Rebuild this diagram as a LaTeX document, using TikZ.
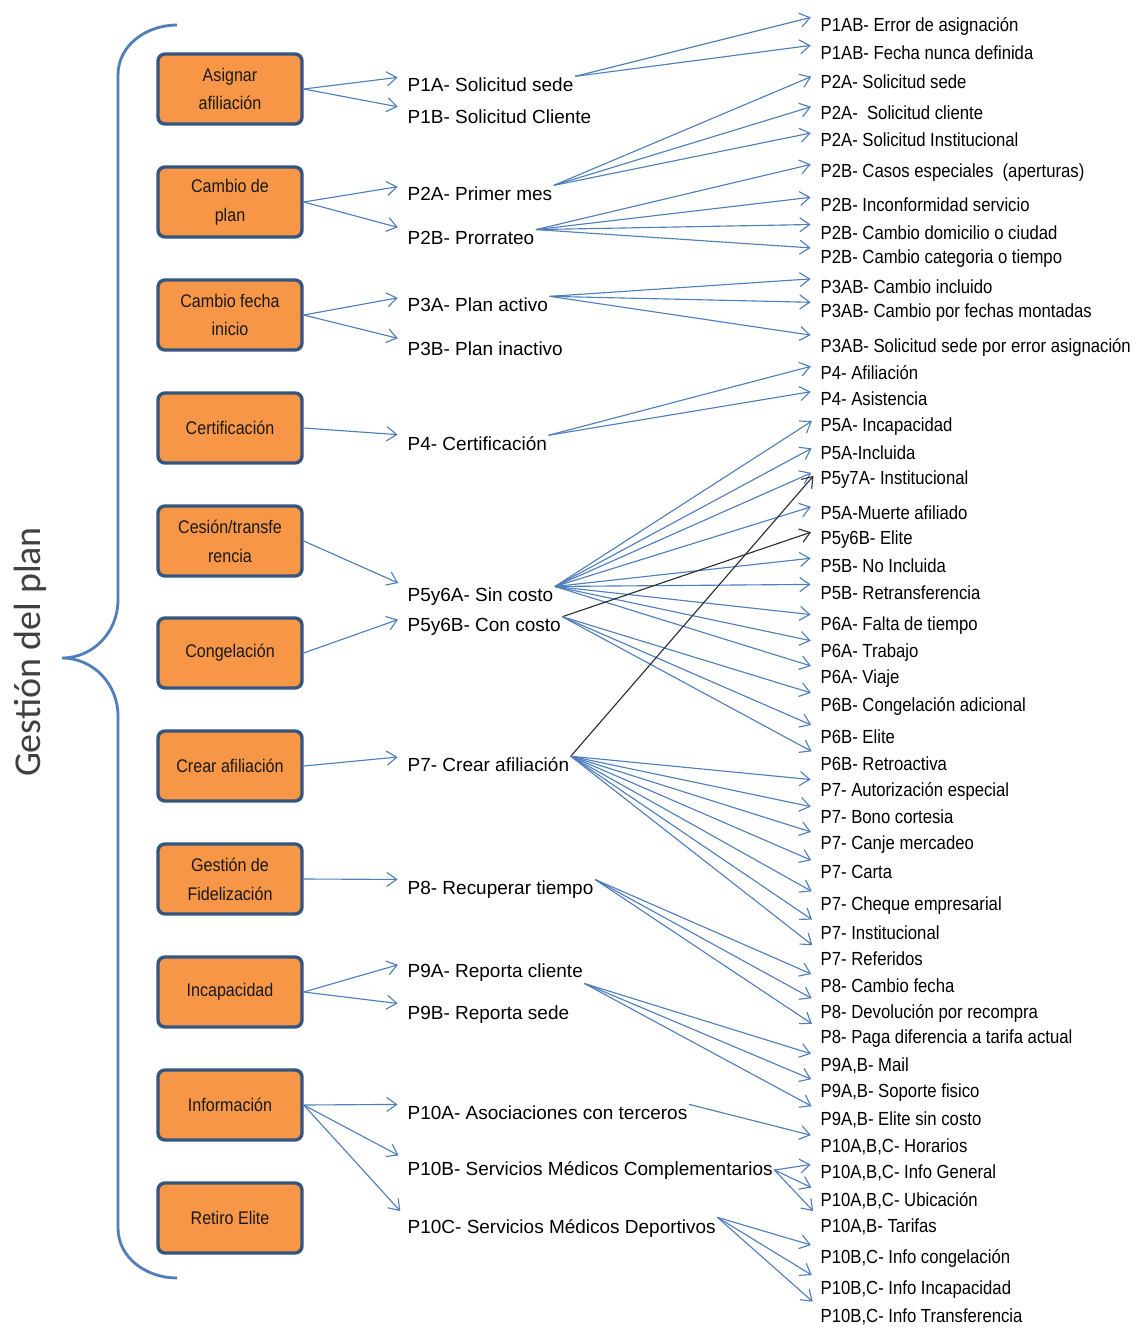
\documentclass[tikz,border=0pt]{standalone}
\usepackage{fontspec}
\setmainfont{Liberation Sans}
\newfontfamily\angosta[FakeStretch=0.88]{Liberation Sans}
\newfontfamily\titulo{Carlito}
\usetikzlibrary{arrows.meta}
\definecolor{naranja}{HTML}{F79646}
\definecolor{bordeazul}{HTML}{34557F}
\definecolor{azulflecha}{HTML}{4F7EBB}
\definecolor{oscuro}{HTML}{2A2F36}
\definecolor{grisletra}{HTML}{404040}

\begin{document}
\begin{tikzpicture}[x=0.025cm, y=-0.025cm,
  tarea/.style={rectangle, rounded corners=5pt, minimum width=3.6cm, minimum height=1.75cm, draw=bordeazul, line width=2.4pt, fill=naranja, align=center, font=\angosta\fontsize{13}{20.5}\selectfont, text=black!90},
  motivo/.style={anchor=west, inner sep=1pt, font=\fontsize{13.5}{16}\selectfont, text=black},
  detalle/.style={anchor=west, inner sep=1pt, font=\angosta\fontsize{13.5}{16}\selectfont, text=black},
  flecha/.style={-{Straight Barb[length=7pt,width=10pt]}, draw=azulflecha, line width=0.8pt, shorten >=6pt},
  flechaosc/.style={flecha, draw=oscuro}]
\useasboundingbox (0,0) rectangle (1147,1330);

% llave y titulo
\draw[azulflecha, line width=2pt] (177,25) to[out=180,in=90] (118,75) -- (118,600) to[out=-90,in=0] (62,658) to[out=0,in=90] (118,716) -- (118,1228) to[out=-90,in=180] (177,1278);
\node[rotate=90, font=\titulo\fontsize{27}{30}\selectfont, text=grisletra] (gestion) at (30,652) {Gestión del plan};

% procesos
\node[tarea] (asignar) at (230,89) {Asignar\\afiliación};
\node[tarea] (cambioplan) at (230,202) {Cambio de\\plan};
\node[tarea] (cambiofecha) at (230,315) {Cambio fecha\\inicio};
\node[tarea] (certif) at (230,428) {Certificación};
\node[tarea] (cesion) at (230,541) {Cesión/transfe\\rencia};
\node[tarea] (congel) at (230,653) {Congelación};
\node[tarea] (crear) at (230,766) {Crear afiliación};
\node[tarea] (fideliz) at (230,879) {Gestión de\\Fidelización};
\node[tarea] (incap) at (230,992) {Incapacidad};
\node[tarea] (info) at (230,1105) {Información};
\node[tarea] (retiro) at (230,1218) {Retiro Elite};

% casos
\node[motivo] (p1a) at (406,85) {P1A- Solicitud sede};
\node[motivo] (p1b) at (406,117) {P1B- Solicitud Cliente};
\node[motivo] (p2a) at (406,194) {P2A- Primer mes};
\node[motivo] (p2b) at (406,238) {P2B- Prorrateo};
\node[motivo] (p3a) at (406,305) {P3A- Plan activo};
\node[motivo] (p3b) at (406,349) {P3B- Plan inactivo};
\node[motivo] (p4) at (406,444) {P4- Certificación};
\node[motivo] (p5y6a) at (406,597) {P5y6A- Sin costo};
\node[motivo] (p5y6b) at (406,627) {P5y6B- Con costo};
\node[motivo] (p7) at (406,765) {P7- Crear afiliación};
\node[motivo] (p8) at (406,890) {P8- Recuperar tiempo};
\node[motivo] (p9a) at (406,973) {P9A- Reporta cliente};
\node[motivo] (p9b) at (406,1015) {P9B- Reporta sede};
\node[motivo] (p10a) at (406,1113) {P10A- Asociaciones con terceros};
\node[motivo] (p10b) at (406,1170) {P10B- Servicios Médicos Complementarios};
\node[motivo] (p10c) at (406,1228) {P10C- Servicios Médicos Deportivos};

% detalles
\node[detalle] (p1ab-error) at (819,26) {P1AB- Error de asignación};
\node[detalle] (p1ab-fecha) at (819,53) {P1AB- Fecha nunca definida};
\node[detalle] (p2a-sede) at (819,82) {P2A- Solicitud sede};
\node[detalle] (p2a-cliente) at (819,113) {P2A-\ \ Solicitud cliente};
\node[detalle] (p2a-inst) at (819,140) {P2A- Solicitud Institucional};
\node[detalle] (p2b-casos) at (819,173) {P2B- Casos especiales\ \ (aperturas)};
\node[detalle] (p2b-inconf) at (819,205) {P2B- Inconformidad servicio};
\node[detalle] (p2b-domicilio) at (819,233) {P2B- Cambio domicilio o ciudad};
\node[detalle] (p2b-categoria) at (819,259) {P2B- Cambio categoria o tiempo};
\node[detalle] (p3ab-incluido) at (819,287) {P3AB- Cambio incluido};
\node[detalle] (p3ab-fechas) at (819,313) {P3AB- Cambio por fechas montadas};
\node[detalle] (p3ab-sede) at (819,347) {P3AB- Solicitud sede por error asignación};
\node[detalle] (p4-afil) at (819,373) {P4- Afiliación};
\node[detalle] (p4-asist) at (819,399) {P4- Asistencia};
\node[detalle] (p5a-incap) at (819,427) {P5A- Incapacidad};
\node[detalle] (p5a-incluida) at (819,453) {P5A-Incluida};
\node[detalle] (p5y7a-inst) at (819,480) {P5y7A- Institucional};
\node[detalle] (p5a-muerte) at (819,513) {P5A-Muerte afiliado};
\node[detalle] (p5y6b-elite) at (819,540) {P5y6B- Elite};
\node[detalle] (p5b-noincl) at (819,566) {P5B- No Incluida};
\node[detalle] (p5b-retrans) at (819,593) {P5B- Retransferencia};
\node[detalle] (p6a-falta) at (819,626) {P6A- Falta de tiempo};
\node[detalle] (p6a-trabajo) at (819,653) {P6A- Trabajo};
\node[detalle] (p6a-viaje) at (819,679) {P6A- Viaje};
\node[detalle] (p6b-cong) at (819,706) {P6B- Congelación adicional};
\node[detalle] (p6b-elite) at (819,737) {P6B- Elite};
\node[detalle] (p6b-retro) at (819,764) {P6B- Retroactiva};
\node[detalle] (p7-autoriz) at (819,791) {P7- Autorización especial};
\node[detalle] (p7-bono) at (819,817) {P7- Bono cortesia};
\node[detalle] (p7-canje) at (819,845) {P7- Canje mercadeo};
\node[detalle] (p7-carta) at (819,872) {P7- Carta};
\node[detalle] (p7-cheque) at (819,906) {P7- Cheque empresarial};
\node[detalle] (p7-inst) at (819,933) {P7- Institucional};
\node[detalle] (p7-ref) at (819,959) {P7- Referidos};
\node[detalle] (p8-fecha) at (819,986) {P8- Cambio fecha};
\node[detalle] (p8-devol) at (819,1013) {P8- Devolución por recompra};
\node[detalle] (p8-paga) at (819,1039) {P8- Paga diferencia a tarifa actual};
\node[detalle] (p9-mail) at (819,1066) {P9A,B- Mail};
\node[detalle] (p9-soporte) at (819,1093) {P9A,B- Soporte fisico};
\node[detalle] (p9-elite) at (819,1120) {P9A,B- Elite sin costo};
\node[detalle] (p10-horarios) at (819,1147) {P10A,B,C- Horarios};
\node[detalle] (p10-info) at (819,1173) {P10A,B,C- Info General};
\node[detalle] (p10-ubic) at (819,1201) {P10A,B,C- Ubicación};
\node[detalle] (p10-tarifas) at (819,1227) {P10A,B- Tarifas};
\node[detalle] (p10-cong) at (819,1258) {P10B,C- Info congelación};
\node[detalle] (p10-incap) at (819,1290) {P10B,C- Info Incapacidad};
\node[detalle] (p10-transf) at (819,1317) {P10B,C- Info Transferencia};

% procesos -> casos
\draw[flecha] (asignar.east) -- (p1a.north west);
\draw[flecha] (asignar.east) -- (p1b.north west);
\draw[flecha] (cambioplan.east) -- (p2a.north west);
\draw[flecha] (cambioplan.east) -- (p2b.north west);
\draw[flecha] (cambiofecha.east) -- (p3a.north west);
\draw[flecha] (cambiofecha.east) -- (p3b.north west);
\draw[flecha] (certif.east) -- (p4.north west);
\draw[flecha] (cesion.east) -- (p5y6a.north west);
\draw[flecha] (congel.east) -- (p5y6b.north west);
\draw[flecha] (crear.east) -- (p7.north west);
\draw[flecha] (fideliz.east) -- (p8.north west);
\draw[flecha] (incap.east) -- (p9a.north west);
\draw[flecha] (incap.east) -- (p9b.north west);
\draw[flecha] (info.east) -- (p10a.north west);
\draw[flecha] (info.east) -- (p10b.north west);
\draw[flecha] (info.east) -- (p10c.north west);

% casos -> detalles
\draw[flecha] (p1a.north east) -- (p1ab-error.north west);
\draw[flecha] (p1a.north east) -- (p1ab-fecha.north west);
\draw[flecha] (p2a.north east) -- (p2a-sede.north west);
\draw[flecha] (p2a.north east) -- (p2a-cliente.north west);
\draw[flecha] (p2a.north east) -- (p2a-inst.north west);
\draw[flecha] (p2b.north east) -- (p2b-casos.north west);
\draw[flecha] (p2b.north east) -- (p2b-inconf.north west);
\draw[flecha] (p2b.north east) -- (p2b-domicilio.north west);
\draw[flecha] (p2b.north east) -- (p2b-categoria.north west);
\draw[flecha] (p3a.north east) -- (p3ab-incluido.north west);
\draw[flecha] (p3a.north east) -- (p3ab-fechas.north west);
\draw[flecha] (p3a.north east) -- (p3ab-sede.north west);
\draw[flecha] (p4.north east) -- (p4-afil.north west);
\draw[flecha] (p4.north east) -- (p4-asist.north west);
\draw[flecha] (p5y6a.north east) -- (p5a-incap.north west);
\draw[flecha] (p5y6a.north east) -- (p5a-incluida.north west);
\draw[flecha] (p5y6a.north east) -- (p5y7a-inst.north west);
\draw[flecha] (p5y6a.north east) -- (p5a-muerte.north west);
\draw[flecha] (p5y6a.north east) -- (p5b-noincl.north west);
\draw[flecha] (p5y6a.north east) -- (p5b-retrans.north west);
\draw[flecha] (p5y6a.north east) -- (p6a-falta.north west);
\draw[flecha] (p5y6a.north east) -- (p6a-trabajo.north west);
\draw[flecha] (p5y6a.north east) -- (p6a-viaje.north west);
\draw[flechaosc] (p5y6b.north east) -- (p5y6b-elite.north west);
\draw[flecha] (p5y6b.north east) -- (p6b-cong.north west);
\draw[flecha] (p5y6b.north east) -- (p6b-elite.north west);
\draw[flecha] (p5y6b.north east) -- (p6b-retro.north west);
\draw[flechaosc] (p7.north east) -- (p5y7a-inst.north west);
\draw[flecha] (p7.north east) -- (p7-autoriz.north west);
\draw[flecha] (p7.north east) -- (p7-bono.north west);
\draw[flecha] (p7.north east) -- (p7-canje.north west);
\draw[flecha] (p7.north east) -- (p7-carta.north west);
\draw[flecha] (p7.north east) -- (p7-cheque.north west);
\draw[flecha] (p7.north east) -- (p7-inst.north west);
\draw[flecha] (p7.north east) -- (p7-ref.north west);
\draw[flecha] (p8.north east) -- (p8-fecha.north west);
\draw[flecha] (p8.north east) -- (p8-devol.north west);
\draw[flecha] (p8.north east) -- (p8-paga.north west);
\draw[flecha] (p9a.south east) -- (p9-mail.north west);
\draw[flecha] (p9a.south east) -- (p9-soporte.north west);
\draw[flecha] (p9a.south east) -- (p9-elite.north west);
\draw[flecha] (p10a.north east) -- (p10-horarios.north west);
\draw[flecha] (p10b.east) -- (p10-info.north west);
\draw[flecha] (p10b.east) -- (p10-ubic.north west);
\draw[flecha] (p10b.east) -- (p10-tarifas.north west);
\draw[flecha] (p10c.north east) -- (p10-cong.north west);
\draw[flecha] (p10c.north east) -- (p10-incap.north west);
\draw[flecha] (p10c.north east) -- (p10-transf.north west);
\end{tikzpicture}
\end{document}
